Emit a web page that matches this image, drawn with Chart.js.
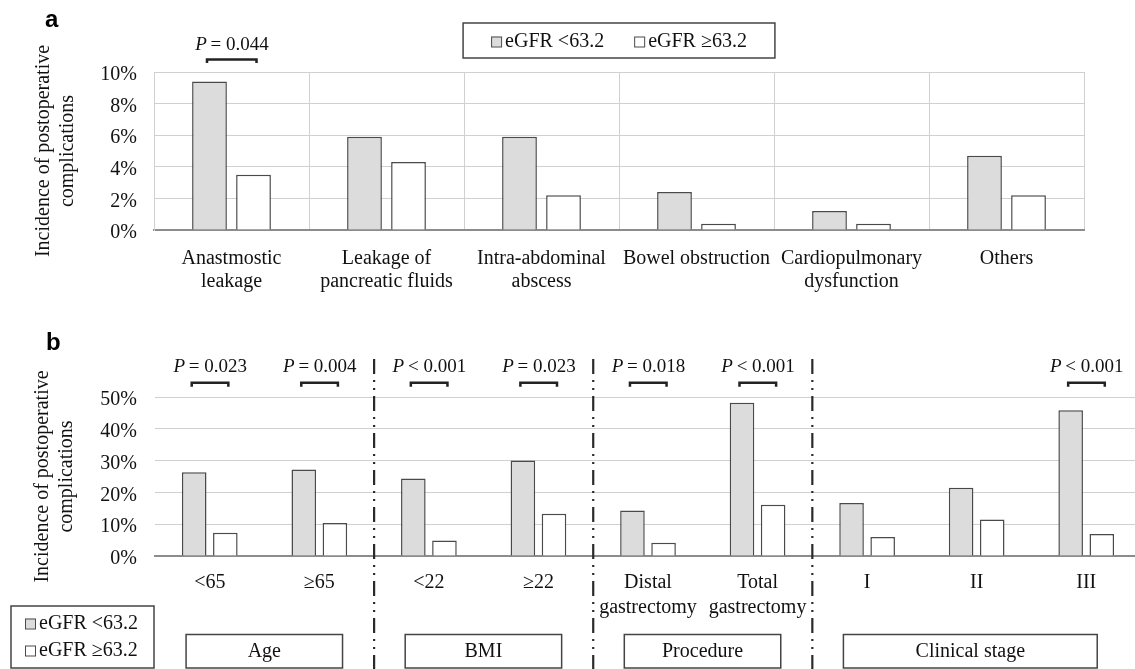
<!DOCTYPE html>
<html>
<head>
<meta charset="utf-8">
<script src="https://cdn.jsdelivr.net/npm/chart.js@4.4.1/dist/chart.umd.min.js"></script>
<style>
  html, body { margin: 0; padding: 0; background: #ffffff; overflow: hidden; width: 1135px; height: 669px; }
  #wrapA { position: absolute; left: 0; top: 0; width: 1135px; height: 300px; }
  #wrapB { position: absolute; left: 0; top: 300px; width: 1145px; height: 369px; }
  canvas { display: block; }
</style>
</head>
<body>
<div id="wrapA"><canvas id="chartA" width="1135" height="300"></canvas></div>
<div id="wrapB"><canvas id="chartB" width="1145" height="369"></canvas></div>
<script>
// ---------------- DATA ----------------
const seriesNames = ["eGFR <63.2", "eGFR \u226563.2"];

const categoriesA = [["Anastmostic", "leakage"], ["Leakage of", "pancreatic fluids"], ["Intra-abdominal", "abscess"], "Bowel obstruction", ["Cardiopulmonary", "dysfunction"], "Others"];
const lowEgfrA  = [9.4, 5.9, 5.9, 2.4, 1.2, 4.7];
const highEgfrA = [3.5, 4.3, 2.2, 0.4, 0.4, 2.2];
const pValuesA  = [{ index: 0, text: " = 0.044" }];
const yTicksA = { max: 10, step: 2 };

const categoriesB = ["<65", "\u226565", "<22", "\u226522", ["Distal", "gastrectomy"], ["Total", "gastrectomy"], "I", "II", "III"];
const lowEgfrB  = [26.3, 27.2, 24.4, 30.0, 14.3, 48.2, 16.7, 21.5, 45.8];
const highEgfrB = [7.3, 10.4, 4.9, 13.3, 4.2, 16.1, 6.0, 11.5, 6.9];
const pValuesB  = [
  { index: 0, text: " = 0.023" }, { index: 1, text: " = 0.004" },
  { index: 2, text: " < 0.001" }, { index: 3, text: " = 0.023" },
  { index: 4, text: " = 0.018" }, { index: 5, text: " < 0.001" },
  { index: 8, text: " < 0.001" }
];
const groupsB = [
  { label: "Age", from: 0, to: 1 },
  { label: "BMI", from: 2, to: 3 },
  { label: "Procedure", from: 4, to: 5 },
  { label: "Clinical stage", from: 6, to: 8 }
];
const yTicksB = { max: 50, step: 10 };
const yTitle = ["Incidence of postoperative", "complications"];

// ---------------- STYLE ----------------
const SERIF = "'Liberation Serif', 'Times New Roman', serif";
const SANS = "'Liberation Sans', Arial, sans-serif";
const INK = "#111111";
const GRID = "#d0d0d0";
const AXIS = "#8c8c8c";
const EDGE = "#4a4a4a";
const FILL_LOW = "#dcdcdc";
const FILL_HIGH = "#ffffff";
const BOXLINE = "#444444";

Chart.defaults.font.family = SERIF;
Chart.defaults.color = INK;

function datasets(low, high) {
  return [
    { label: seriesNames[0], data: low, backgroundColor: FILL_LOW, borderColor: EDGE, borderWidth: 1.5,
      categoryPercentage: 0.568, barPercentage: 0.79 },
    { label: seriesNames[1], data: high, backgroundColor: FILL_HIGH, borderColor: EDGE, borderWidth: 1.5,
      categoryPercentage: 0.568, barPercentage: 0.79 }
  ];
}

function drawPLabel(ctx, cx, cy, rest) {
  ctx.save();
  ctx.textBaseline = "middle";
  ctx.textAlign = "left";
  ctx.fillStyle = INK;
  ctx.font = "italic 19px " + SERIF;
  const wP = ctx.measureText("P").width;
  ctx.font = "19px " + SERIF;
  const wR = ctx.measureText(rest).width;
  const x0 = cx - (wP + wR) / 2 + 1;
  ctx.font = "italic 19px " + SERIF;
  ctx.fillText("P", x0, cy);
  ctx.font = "19px " + SERIF;
  ctx.fillText(rest, x0 + wP - 1, cy);
  ctx.restore();
}

function drawBracket(ctx, x1, x2, y, leg) {
  ctx.save();
  ctx.strokeStyle = "#222222";
  ctx.lineWidth = 2.5;
  ctx.lineCap = "butt";
  ctx.beginPath();
  ctx.moveTo(x1, y + leg);
  ctx.lineTo(x1, y);
  ctx.lineTo(x2, y);
  ctx.lineTo(x2, y + leg);
  ctx.stroke();
  ctx.restore();
}

function drawLegendItem(ctx, x, cy, fill, text) {
  ctx.save();
  ctx.fillStyle = fill;
  ctx.strokeStyle = EDGE;
  ctx.lineWidth = 1;
  ctx.fillRect(x, cy - 5, 10, 10);
  ctx.strokeRect(x + 0.5, cy - 4.5, 10, 10);
  ctx.fillStyle = INK;
  ctx.font = "20px " + SERIF;
  ctx.textBaseline = "middle";
  ctx.textAlign = "left";
  ctx.fillText(text, x + 14, cy);
  ctx.restore();
}

function panelLetter(ctx, letter, x, y) {
  ctx.save();
  ctx.fillStyle = "#000";
  ctx.font = "bold 24px " + SANS;
  ctx.textBaseline = "alphabetic";
  ctx.textAlign = "left";
  ctx.fillText(letter, x, y);
  ctx.restore();
}

// ---------------- CHART A ----------------
const annotA = {
  id: "annotA",
  afterDraw(chart) {
    const ctx = chart.ctx;
    const area = chart.chartArea;
    panelLetter(ctx, "a", 45, 27);
    ctx.save();
    ctx.font = "20px " + SERIF;
    const w1 = 14 + ctx.measureText(seriesNames[0]).width;
    const w2 = 14 + ctx.measureText(seriesNames[1]).width;
    ctx.restore();
    const gap = 30, padX = 28;
    const boxW = w1 + gap + w2 + padX * 2;
    const cxp = (area.left + area.right) / 2;
    const bx = cxp - boxW / 2, by = 23, bh = 35;
    ctx.save();
    ctx.strokeStyle = BOXLINE;
    ctx.lineWidth = 1.5;
    ctx.strokeRect(bx, by, boxW, bh);
    ctx.restore();
    const cy = by + bh / 2 + 1;
    drawLegendItem(ctx, bx + padX, cy, FILL_LOW, seriesNames[0]);
    drawLegendItem(ctx, bx + padX + w1 + gap, cy, FILL_HIGH, seriesNames[1]);
    const m0 = chart.getDatasetMeta(0), m1 = chart.getDatasetMeta(1);
    const xs = chart.scales.x;
    pValuesA.forEach(p => {
      const x1 = m0.data[p.index].x - 2.5, x2 = m1.data[p.index].x + 3;
      drawPLabel(ctx, xs.getPixelForValue(p.index), 45, p.text);
      drawBracket(ctx, x1, x2, 59.5, 3.5);
    });
  }
};

new Chart(document.getElementById("chartA"), {
  type: "bar",
  data: { labels: categoriesA, datasets: datasets(lowEgfrA, highEgfrA) },
  options: {
    responsive: false, animation: false, devicePixelRatio: 1,
    layout: { padding: { top: 72, right: 51, bottom: 0, left: 0 } },
    plugins: { legend: { display: false }, tooltip: { enabled: false } },
    scales: {
      x: {
        offset: true,
        grid: { display: true, color: GRID, lineWidth: 1, drawTicks: false, offset: true },
        border: { display: true, color: AXIS, width: 2 },
        ticks: { font: { family: SERIF, size: 20, lineHeight: 1.15 }, color: INK, padding: 17.5,
                 maxRotation: 0, minRotation: 0, autoSkip: false },
        afterFit: s => { s.height = 70; }
      },
      y: {
        min: 0, max: yTicksA.max,
        ticks: { stepSize: yTicksA.step, callback: v => v + "%", font: { family: SERIF, size: 20 }, color: INK,
                 padding: 17, labelOffset: 3 },
        grid: { color: c => (c.tick && c.tick.value === 0 ? AXIS : GRID), lineWidth: 1, drawTicks: false },
        border: { display: true, color: GRID, width: 1 },
        title: { display: true, text: yTitle, font: { family: SERIF, size: 20, lineHeight: 1.2 }, color: INK,
                 padding: { top: 32, bottom: 0 } },
        afterFit: s => { s.width = 154; }
      }
    }
  },
  plugins: [annotA]
});

// ---------------- CHART B ----------------
const annotB = {
  id: "annotB",
  afterDraw(chart) {
    const ctx = chart.ctx;
    const xs = chart.scales.x;
    const catW = xs.getPixelForValue(1) - xs.getPixelForValue(0);
    panelLetter(ctx, "b", 46, 50);
    const m0 = chart.getDatasetMeta(0), m1 = chart.getDatasetMeta(1);
    pValuesB.forEach(p => {
      const x1 = m0.data[p.index].x - 2.5, x2 = m1.data[p.index].x + 3;
      drawPLabel(ctx, xs.getPixelForValue(p.index), 66.7, p.text);
      drawBracket(ctx, x1, x2, 82.7, 4);
    });
    // dash-dot separators between groups
    ctx.save();
    ctx.strokeStyle = "#2a2a2a";
    ctx.lineWidth = 2.2;
    ctx.setLineDash([15, 6, 2, 6, 2, 6]);
    groupsB.slice(0, -1).forEach(g => {
      const x = xs.getPixelForValue(g.to) + catW / 2;
      ctx.beginPath();
      ctx.moveTo(x, 59);
      ctx.lineTo(x, 369);
      ctx.stroke();
    });
    ctx.restore();
    // group boxes
    groupsB.forEach((g, k) => {
      const left = xs.getPixelForValue(g.from) - 23.7;
      const right = xs.getPixelForValue(g.to) + (k === groupsB.length - 1 ? 11 : 23.2);
      const top = 334.5, bottom = 368;
      ctx.save();
      ctx.strokeStyle = BOXLINE;
      ctx.lineWidth = 1.5;
      ctx.strokeRect(left, top, right - left, bottom - top);
      ctx.fillStyle = INK;
      ctx.font = "20px " + SERIF;
      ctx.textAlign = "center";
      ctx.textBaseline = "middle";
      ctx.fillText(g.label, (left + right) / 2, (top + bottom) / 2);
      ctx.restore();
    });
    // legend box bottom-left
    ctx.save();
    ctx.strokeStyle = BOXLINE;
    ctx.lineWidth = 1.5;
    ctx.strokeRect(11, 306, 143, 62);
    ctx.restore();
    drawLegendItem(ctx, 25, 323.5, FILL_LOW, seriesNames[0]);
    drawLegendItem(ctx, 25, 350.5, FILL_HIGH, seriesNames[1]);
  }
};

new Chart(document.getElementById("chartB"), {
  type: "bar",
  data: { labels: categoriesB, datasets: datasets(lowEgfrB, highEgfrB) },
  options: {
    responsive: false, animation: false, devicePixelRatio: 1,
    layout: { padding: { top: 97, right: 4, bottom: 0, left: 0 } },
    plugins: { legend: { display: false }, tooltip: { enabled: false } },
    scales: {
      x: {
        offset: true,
        grid: { display: false, drawTicks: false },
        border: { display: true, color: AXIS, width: 2 },
        ticks: { font: { family: SERIF, size: 20, lineHeight: 1.25 }, color: INK, padding: 14.5,
                 maxRotation: 0, minRotation: 0, autoSkip: false },
        afterFit: s => { s.height = 113; }
      },
      y: {
        min: 0, max: yTicksB.max,
        ticks: { stepSize: yTicksB.step, callback: v => v + "%", font: { family: SERIF, size: 20 }, color: INK,
                 padding: 18, labelOffset: 3 },
        grid: { color: c => (c.tick && c.tick.value === 0 ? AXIS : GRID), lineWidth: 1, drawTicks: false },
        border: { display: false },
        title: { display: true, text: yTitle, font: { family: SERIF, size: 20, lineHeight: 1.2 }, color: INK,
                 padding: { top: 31, bottom: 0 } },
        afterFit: s => { s.width = 155; }
      }
    }
  },
  plugins: [annotB]
});
</script>
</body>
</html>
